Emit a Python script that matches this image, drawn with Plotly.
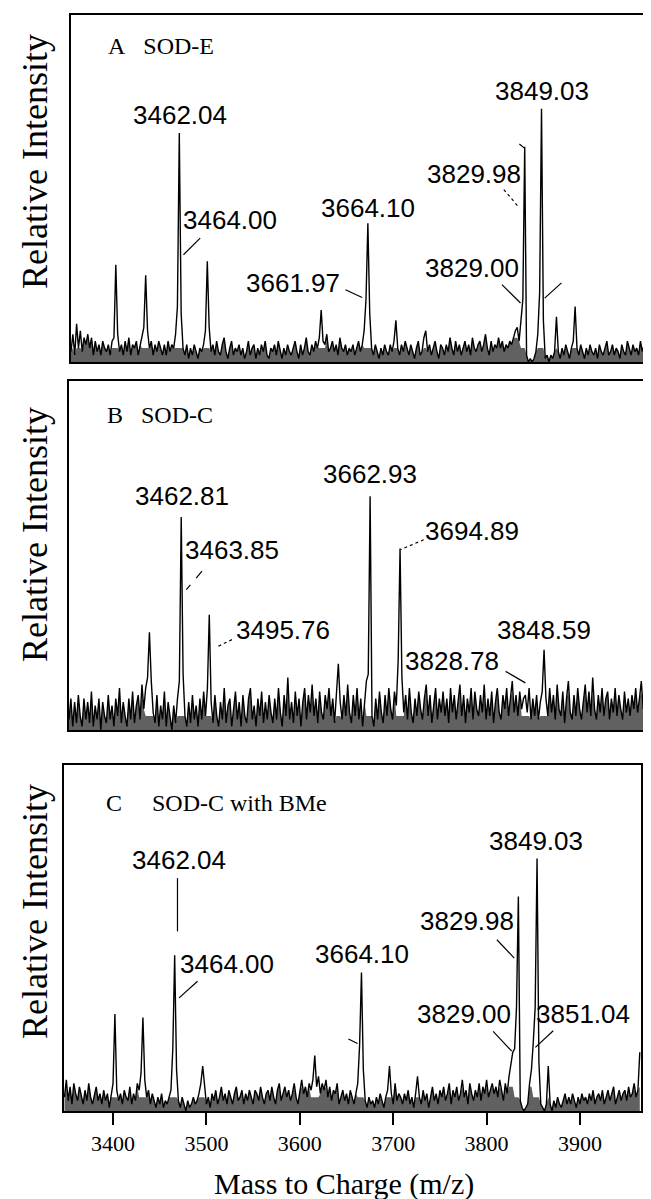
import numpy as np
import plotly.graph_objects as go

W, H = 651, 1199

# ---------------- data ----------------
MZ_START = 3348
MZ_STEP = 2
tick_vals = [3400, 3500, 3600, 3700, 3800, 3900]

# baseline noise (relative intensity, % of panel height), sampled every 2 m/z from 3348
noise_A = [
    3, 8, 2, 6, 4, 9, 3, 7, 5, 8,
    4, 7, 2, 6, 3, 5, 2, 6, 4, 3,
    5, 2, 6, 7, 5, 8, 3, 5, 2, 6,
    3, 7, 2, 5, 4, 6, 2, 5, 7, 10,
    5, 9, 4, 6, 2, 5, 3, 6, 4, 2,
    5, 2, 6, 3, 5, 4, 8, 16, 5, 14,
    4, 2, 5, 1, 4, 2, 5, 3, 1, 4,
    3, 5, 9, 5, 10, 3, 5, 2, 6, 3,
    2, 5, 7, 3, 1, 4, 6, 2, 4, 3,
    5, 2, 4, 1, 3, 6, 2, 4, 5, 1,
    4, 2, 5, 3, 6, 2, 1, 4, 3, 5,
    2, 6, 3, 1, 4, 2, 5, 3, 2, 4,
    6, 3, 1, 5, 2, 4, 7, 3, 2, 5,
    3, 6, 4, 7, 5, 6, 5, 8, 3, 4,
    6, 3, 5, 2, 7, 4, 3, 5, 2, 4,
    3, 5, 2, 4, 6, 3, 5, 9, 18, 5,
    14, 4, 2, 5, 3, 1, 4, 2, 5, 3,
    2, 5, 3, 6, 5, 4, 2, 5, 3, 6,
    4, 2, 5, 3, 1, 4, 6, 2, 3, 7,
    5, 3, 5, 2, 4, 6, 3, 1, 5, 4,
    2, 5, 3, 7, 4, 2, 6, 3, 5, 2,
    4, 6, 3, 5, 2, 7, 4, 3, 5, 6,
    3, 5, 8, 4, 2, 6, 3, 5, 4, 7,
    4, 6, 3, 5, 4, 6, 5, 7, 9, 10,
    6, 12, 18, 5, 2, 0, 1, 0, 1, 3,
    8, 20, 5, 12, 1, 2, 0, 2, 1, 3,
    5, 3, 1, 4, 2, 5, 3, 1, 4, 6,
    5, 4, 2, 5, 3, 1, 4, 2, 5, 3,
    2, 4, 1, 5, 3, 2, 4, 6, 2, 3,
    5, 2, 4, 3, 1, 5, 3, 2, 6, 4,
    2, 5, 3, 4, 2, 6, 3, 5, 2,
]
peaks_A_mz = [3354, 3396, 3428, 3464, 3494, 3616, 3666, 3696, 3728, 3834, 3852, 3868, 3888]
peaks_A_int = [11, 28, 25, 66, 29, 15, 40, 12, 9, 62, 73, 13, 16]

noise_B = [
    3, 9, 1, 8, 2, 10, 4, 1, 9, 3,
    8, 2, 11, 1, 7, 3, 9, 0, 8, 4,
    2, 10, 3, 7, 1, 9, 4, 12, 2, 8,
    4, 1, 9, 3, 11, 2, 7, 10, 3, 13,
    6, 12, 15, 5, 14, 5, 2, 10, 1, 7,
    3, 11, 1, 8, 4, 0, 7, 2, 9, 14,
    5, 16, 4, 1, 8, 2, 10, 3, 7, 1,
    9, 3, 11, 4, 12, 5, 8, 2, 10, 4,
    1, 8, 3, 12, 2, 7, 9, 1, 6, 11,
    3, 8, 1, 10, 4, 2, 9, 12, 3, 7,
    1, 9, 4, 11, 2, 8, 3, 10, 5, 2,
    9, 3, 12, 5, 1, 10, 4, 15, 3, 8,
    2, 11, 4, 9, 1, 8, 12, 3, 10, 5,
    13, 4, 9, 2, 11, 5, 3, 10, 6, 12,
    4, 9, 2, 11, 5, 8, 3, 10, 4, 13,
    5, 2, 10, 4, 12, 3, 9, 1, 8, 14,
    16, 5, 4, 1, 9, 3, 11, 5, 2, 10,
    4, 12, 6, 3, 11, 7, 20, 5, 15, 5,
    10, 3, 12, 5, 2, 9, 4, 11, 6, 3,
    9, 13, 4, 10, 2, 8, 12, 3, 9, 5,
    11, 4, 9, 2, 12, 5, 10, 3, 8, 13,
    4, 10, 2, 9, 5, 12, 3, 11, 6, 4,
    10, 5, 13, 3, 9, 4, 11, 2, 8, 12,
    5, 3, 10, 6, 12, 4, 9, 14, 5, 10,
    4, 11, 6, 9, 5, 5, 12, 3, 9, 4,
    10, 3, 8, 11, 5, 9, 4, 12, 5, 10,
    3, 13, 6, 4, 11, 2, 9, 14, 5, 3,
    10, 4, 12, 6, 3, 9, 13, 5, 11, 4,
    15, 6, 3, 10, 5, 12, 4, 9, 11, 3,
    9, 5, 12, 4, 10, 6, 3, 11, 5, 9,
    4, 10, 6, 12, 5, 9, 14, 6, 11,
]
peaks_B_mz = [3434, 3468, 3498, 3636, 3670, 3702, 3836, 3856]
peaks_B_int = [28, 61, 33, 19, 67, 52, 10, 23]

noise_C = [
    4, 9, 3, 7, 2, 8, 5, 3, 7, 4,
    2, 6, 3, 8, 4, 2, 5, 7, 3, 5,
    2, 6, 3, 5, 1, 4, 8, 5, 6, 3,
    5, 2, 6, 4, 3, 7, 2, 5, 3, 8,
    6, 11, 5, 9, 4, 6, 2, 5, 3, 1,
    4, 2, 5, 1, 3, 2, 4, 6, 18, 5,
    12, 3, 1, 4, 2, 0, 3, 1, 2, 4,
    2, 3, 5, 8, 5, 7, 2, 4, 1, 5,
    3, 6, 2, 4, 7, 3, 5, 2, 6, 4,
    2, 5, 7, 3, 4, 6, 2, 5, 3, 6,
    4, 2, 6, 5, 3, 7, 4, 2, 5, 6,
    3, 7, 4, 2, 6, 8, 3, 5, 7, 4,
    6, 3, 5, 8, 4, 2, 6, 9, 5, 7,
    4, 8, 6, 9, 5, 7, 10, 5, 8, 6,
    9, 4, 7, 3, 6, 5, 8, 2, 4, 6,
    3, 5, 2, 6, 4, 2, 5, 8, 19, 5,
    12, 3, 1, 4, 2, 3, 1, 4, 2, 5,
    3, 1, 4, 6, 5, 5, 2, 8, 3, 5,
    4, 2, 5, 3, 6, 2, 4, 1, 5, 5,
    4, 2, 6, 3, 5, 1, 4, 7, 3, 5,
    2, 6, 4, 7, 3, 5, 8, 2, 6, 4,
    7, 3, 5, 9, 4, 6, 2, 8, 5, 3,
    6, 4, 8, 3, 7, 5, 9, 4, 6, 8,
    5, 7, 4, 9, 6, 3, 8, 5, 10, 14,
    17, 18, 30, 5, 3, 1, 0, 1, 2, 8,
    12, 20, 30, 5, 14, 2, 1, 0, 2, 5,
    2, 0, 3, 1, 4, 2, 1, 3, 5, 2,
    4, 2, 5, 3, 1, 4, 2, 5, 3, 4,
    2, 5, 3, 6, 2, 4, 5, 3, 6, 2,
    4, 6, 3, 5, 7, 2, 4, 6, 3, 5,
    6, 3, 7, 4, 5, 8, 4, 6, 17,
]
peaks_C_mz = [3402, 3432, 3466, 3496, 3616, 3666, 3696, 3726, 3834, 3854, 3866]
peaks_C_int = [28, 27, 45, 13, 16, 40, 13, 10, 62, 73, 13]

labels_A = ["3462.04", "3464.00", "3664.10", "3661.97", "3829.98", "3829.00", "3849.03"]
labels_B = ["3462.81", "3463.85", "3495.76", "3662.93", "3694.89", "3828.78", "3848.59"]
labels_C = ["3462.04", "3464.00", "3664.10", "3829.98", "3829.00", "3849.03", "3851.04"]

panel_titles = ["A\u00a0\u00a0\u00a0SOD-E", "B\u00a0\u00a0\u00a0SOD-C",
                "C\u00a0\u00a0\u00a0\u00a0\u00a0SOD-C with BMe"]
y_title = "Relative Intensity"
x_title = "Mass to Charge (m/z)"

# ---------------- layout (positions) ----------------
# label centres in data coordinates (m/z, %)
label_pos_A = [(3464.4, 71.3), (3518.3, 41.0), (3665.9, 44.4), (3585.4, 22.8),
               (3779.7, 54.2), (3777.6, 27.1), (3852.2, 78.0)]
label_pos_B = [(3468.4, 67.0), (3522.2, 51.7), (3576.7, 28.7), (3670.3, 73.4),
               (3779.0, 56.9), (3758.0, 19.7), (3855.5, 28.7)]
label_pos_C = [(3470.7, 72.6), (3522.3, 42.5), (3667.0, 45.4), (3779.3, 54.8),
               (3775.4, 28.0), (3853.4, 77.9), (3903.4, 28.0)]
# leader lines (x0, y0, x1, y1, dash)
leaders_A = [(3486.4, 35.7, 3468.5, 30.9, "solid"), (3642.0, 20.8, 3659.9, 18.6, "solid"),
             (3811.6, 49.7, 3828.3, 44.4, "dot"), (3809.6, 22.3, 3829.5, 17.0, "solid"),
             (3873.4, 22.8, 3855.4, 18.4, "solid"), (3828.3, 62.8, 3833.4, 61.7, "solid")]
leaders_B = [(3490.2, 45.5, 3473.5, 40.2, "dash"), (3522.2, 25.9, 3505.4, 23.7, "dot"),
             (3727.3, 54.5, 3702.6, 51.7, "dot"), (3814.9, 16.8, 3836.0, 13.5, "solid")]
leaders_C = [(3469.0, 67.3, 3469.0, 51.9, "solid"), (3490.5, 37.5, 3470.7, 32.7, "solid"),
             (3652.0, 20.8, 3661.8, 19.5, "solid"), (3811.0, 49.5, 3829.6, 44.2, "solid"),
             (3807.0, 23.0, 3826.9, 17.3, "solid"), (3871.3, 23.2, 3852.2, 18.4, "solid")]

panels = [
    dict(noise=noise_A, pmz=peaks_A_mz, pint=peaks_A_int, labels=labels_A, lpos=label_pos_A,
         leaders=leaders_A, box=(63, 7, 639, 354), xr=(3348, 3965), title=panel_titles[0],
         title_xy=(98, 38), ylab_y=154, band_cap=7),
    dict(noise=noise_B, pmz=peaks_B_mz, pint=peaks_B_int, labels=labels_B, lpos=label_pos_B,
         leaders=leaders_B, box=(61, 373, 638, 722), xr=(3348, 3965), title=panel_titles[1],
         title_xy=(97, 407), ylab_y=527, band_cap=11),
    dict(noise=noise_C, pmz=peaks_C_mz, pint=peaks_C_int, labels=labels_C, lpos=label_pos_C,
         leaders=leaders_C, box=(56, 757, 633, 1103), xr=(3347.5, 3965.3), title=panel_titles[2],
         title_xy=(96, 795), ylab_y=904, band_cap=7),
]

SERIF = "Liberation Serif, Times New Roman, serif"
SANS = "Liberation Sans, Arial, sans-serif"


def px(x):
    return x / W


def py(y):
    return 1 - y / H


def spectrum(noise, pk_mz, pk_int):
    y = np.array(noise, dtype=float)
    x = MZ_START + MZ_STEP * np.arange(len(y))
    base = y.copy()
    for m, h in zip(pk_mz, pk_int):
        i = int(round((m - MZ_START) / MZ_STEP))
        if 0 <= i < len(y):
            y[i] = h
            base[max(i - 2, 0):i + 3] = np.minimum(base[max(i - 2, 0):i + 3], 4)
    return x, y, base


fig = go.Figure()
annotations = []
shapes = []
layout_axes = {}

for k, p in enumerate(panels):
    sfx = "" if k == 0 else str(k + 1)
    xid, yid = "x" + sfx, "y" + sfx
    x, y, base = spectrum(p["noise"], p["pmz"], p["pint"])
    # dense noise band (filled)
    fig.add_trace(go.Scatter(x=x, y=np.minimum(base, p["band_cap"]), mode="lines",
                             xaxis=xid, yaxis=yid,
                             line=dict(color="rgba(0,0,0,0)", width=0),
                             fill="tozeroy", fillcolor="rgba(0,0,0,0.62)",
                             showlegend=False, hoverinfo="skip"))
    # spectrum line
    fig.add_trace(go.Scatter(x=x, y=y, mode="lines", xaxis=xid, yaxis=yid,
                             line=dict(color="black", width=1.4),
                             showlegend=False, hoverinfo="skip"))
    x0, y0, x1, y1 = p["box"]
    last = k == len(panels) - 1
    layout_axes["xaxis" + sfx] = dict(
        domain=[px(x0), px(x1)], range=list(p["xr"]), anchor=yid,
        showline=True, mirror=True, linecolor="black", linewidth=2,
        showgrid=False, zeroline=False,
        ticks="outside" if last else "", ticklen=12, tickwidth=2, tickcolor="black",
        tickvals=tick_vals if last else [], showticklabels=last,
        tickfont=dict(family=SERIF, size=22, color="black"),
    )
    layout_axes["yaxis" + sfx] = dict(
        domain=[py(y1), py(y0)], range=[0, 100], anchor=xid,
        showline=True, mirror=True, linecolor="black", linewidth=2,
        showgrid=False, zeroline=False, ticks="", showticklabels=False,
    )
    # panel title
    tx, ty = p["title_xy"]
    annotations.append(dict(x=px(tx), y=py(ty), xref="paper", yref="paper",
                            text=p["title"], showarrow=False, xanchor="left", yanchor="middle",
                            font=dict(family=SERIF, size=24, color="black")))
    # y title
    annotations.append(dict(x=px(27), y=py(p["ylab_y"]), xref="paper", yref="paper",
                            text=y_title, showarrow=False, textangle=-90,
                            xanchor="center", yanchor="middle",
                            font=dict(family=SERIF, size=36, color="black")))
    # peak labels
    for txt, (lx, ly) in zip(p["labels"], p["lpos"]):
        annotations.append(dict(x=lx, y=ly, xref=xid, yref=yid, text=txt, showarrow=False,
                                xanchor="center", yanchor="middle",
                                font=dict(family=SANS, size=26, color="black")))
    for (a, b, c, d, dash) in p["leaders"]:
        shapes.append(dict(type="line", xref=xid, yref=yid, x0=a, y0=b, x1=c, y1=d,
                           line=dict(color="black", width=1.2, dash=dash)))

annotations.append(dict(x=px(336), y=py(1176), xref="paper", yref="paper", text=x_title,
                        showarrow=False, xanchor="center", yanchor="middle",
                        font=dict(family=SERIF, size=30, color="black")))

fig.update_layout(
    width=W, height=H, margin=dict(l=0, r=0, t=0, b=0),
    paper_bgcolor="white", plot_bgcolor="white",
    annotations=annotations, shapes=shapes, showlegend=False,
    **layout_axes,
)

fig.write_html("out.html")
